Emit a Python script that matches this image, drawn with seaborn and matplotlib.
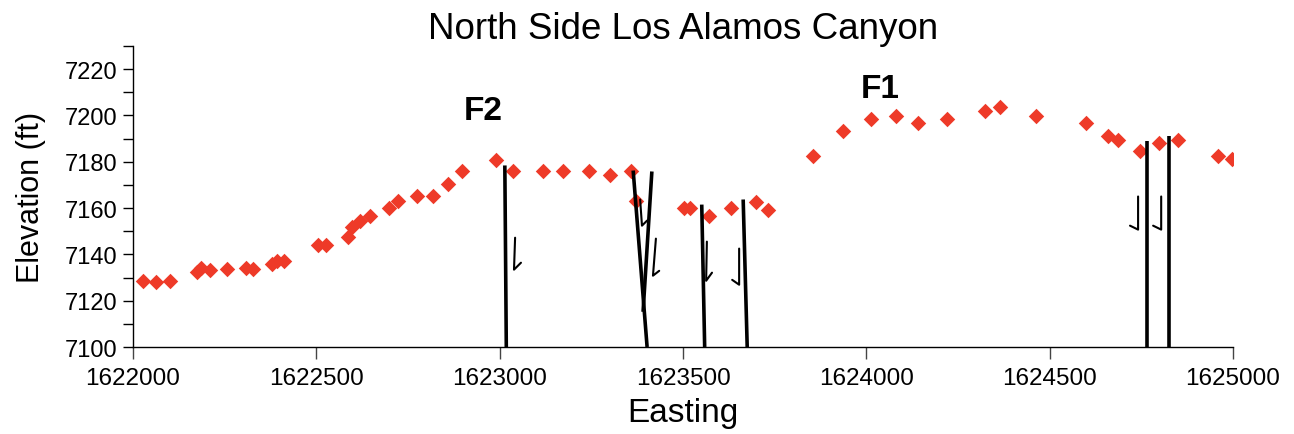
import matplotlib
matplotlib.use("Agg")
import matplotlib.pyplot as plt
import matplotlib.ticker as mticker
import seaborn as sns
import pandas as pd

# ---- data ----
easting = [1622027, 1622063, 1622101, 1622175, 1622185, 1622210, 1622256, 1622308,
           1622327, 1622379, 1622393, 1622412, 1622505, 1622526, 1622586, 1622597,
           1622619, 1622646, 1622698, 1622723, 1622775, 1622818, 1622859, 1622897,
           1622990, 1623036, 1623118, 1623173, 1623244, 1623301, 1623358, 1623372,
           1623503, 1623519, 1623571, 1623631, 1623699, 1623732, 1623855, 1623936,
           1624013, 1624081, 1624141, 1624220, 1624324, 1624365, 1624463, 1624599,
           1624659, 1624686, 1624746, 1624798, 1624850, 1624959, 1624997]
elevation = [7128.6, 7128.2, 7128.6, 7132.5, 7134.2, 7133.4, 7133.8, 7134.2,
             7133.8, 7136.0, 7137.3, 7137.3, 7144.2, 7144.2, 7147.7, 7152.0,
             7154.6, 7156.7, 7160.2, 7163.2, 7165.4, 7165.4, 7170.6, 7175.8,
             7180.6, 7175.8, 7175.8, 7175.8, 7175.8, 7174.1, 7175.8, 7163.2,
             7160.2, 7160.2, 7156.7, 7160.2, 7162.8, 7159.3, 7182.7, 7193.1,
             7198.3, 7199.6, 7196.6, 7198.3, 7201.8, 7203.5, 7199.6, 7196.6,
             7191.0, 7189.2, 7184.5, 7187.9, 7189.2, 7182.7, 7181.0]

# fault traces: (top easting, top elev, bottom easting, bottom elev)
fault_x_top = [1623014, 1623364, 1623415, 1623551, 1623664, 1624765, 1624825]
fault_y_top = [7178.4, 7176.2, 7175.8, 7161.5, 7163.7, 7188.8, 7191.0]
fault_x_bot = [1623018, 1623402, 1623391, 1623559, 1623675, 1624765, 1624825]
fault_y_bot = [7100.0, 7100.0, 7115.2, 7100.0, 7100.0, 7100.0, 7100.0]

# slip half-arrows: top point, bottom point, hook tip
arrow_x_top = [1623042, 1623383, 1623426, 1623565, 1623653, 1624741, 1624804]
arrow_y_top = [7147.2, 7163.7, 7146.8, 7145.5, 7142.5, 7165.0, 7165.0]
arrow_x_bot = [1623039, 1623388, 1623418, 1623563, 1623653, 1624741, 1624804]
arrow_y_bot = [7133.4, 7152.4, 7130.8, 7128.6, 7126.9, 7150.7, 7150.7]
arrow_x_hook = [1623058, 1623402, 1623435, 1623579, 1623634, 1624719, 1624782]
arrow_y_hook = [7136.4, 7154.6, 7132.9, 7132.1, 7129.0, 7152.4, 7152.4]

fault_labels = ["F2", "F1"]
label_x = [1622955, 1624037]
label_y = [7202.3, 7211.8]

title = "North Side Los Alamos Canyon"
xlabel = "Easting"
ylabel = "Elevation (ft)"

# ---- style ----
sns.set_theme(style="ticks")
plt.rcParams["font.family"] = ["Liberation Sans", "DejaVu Sans"]
plt.rcParams["text.color"] = "black"
plt.rcParams["axes.labelcolor"] = "black"
plt.rcParams["xtick.color"] = "black"
plt.rcParams["ytick.color"] = "black"

fig = plt.figure(figsize=(12.94, 4.35), dpi=100)
ax = fig.add_axes([0.1028, 0.2, 0.8501, 0.692])

df = pd.DataFrame({"Easting": easting, "Elevation": elevation})
sns.scatterplot(data=df, x="Easting", y="Elevation", ax=ax, marker="D",
                color="#EE3A28", s=62, linewidth=0, zorder=3)

for xt, yt, xb, yb in zip(fault_x_top, fault_y_top, fault_x_bot, fault_y_bot):
    ax.plot([xt, xb], [yt, yb], color="black", lw=2.6, solid_capstyle="butt", zorder=4)

for xt, yt, xb, yb, xh, yh in zip(arrow_x_top, arrow_y_top, arrow_x_bot,
                                  arrow_y_bot, arrow_x_hook, arrow_y_hook):
    ax.plot([xt, xb, xh], [yt, yb, yh], color="black", lw=1.5, zorder=4)

for lab, lx, ly in zip(fault_labels, label_x, label_y):
    ax.text(lx, ly, lab, ha="center", va="center", fontsize=24, fontweight="bold",
            color="black")

ax.set_xlim(1622000, 1625000)
ax.set_ylim(7100, 7230)
ax.xaxis.set_major_locator(mticker.MultipleLocator(500))
ax.yaxis.set_major_locator(mticker.MultipleLocator(20))
ax.yaxis.set_minor_locator(mticker.MultipleLocator(10))
ax.xaxis.set_major_formatter(mticker.FormatStrFormatter("%d"))
ax.yaxis.set_major_formatter(mticker.FormatStrFormatter("%d"))

sns.despine(ax=ax)
for sp in ["left", "bottom"]:
    ax.spines[sp].set_color("black")
    ax.spines[sp].set_linewidth(1.0)

ax.tick_params(axis="x", which="major", direction="out", length=8.5, width=1,
               color="#444444", labelsize=17.5, pad=6, labelcolor="black")
ax.tick_params(axis="y", which="both", direction="out", length=7, width=1,
               color="black", labelsize=17, pad=4, labelcolor="black")

ax.set_xlabel(xlabel, fontsize=24, labelpad=6, color="black")
ax.set_ylabel(ylabel, fontsize=22, labelpad=14, color="black")
ax.set_title(title, fontsize=26.5, pad=6, color="black")
ax.grid(False)

fig.savefig("out.png", dpi=100)
